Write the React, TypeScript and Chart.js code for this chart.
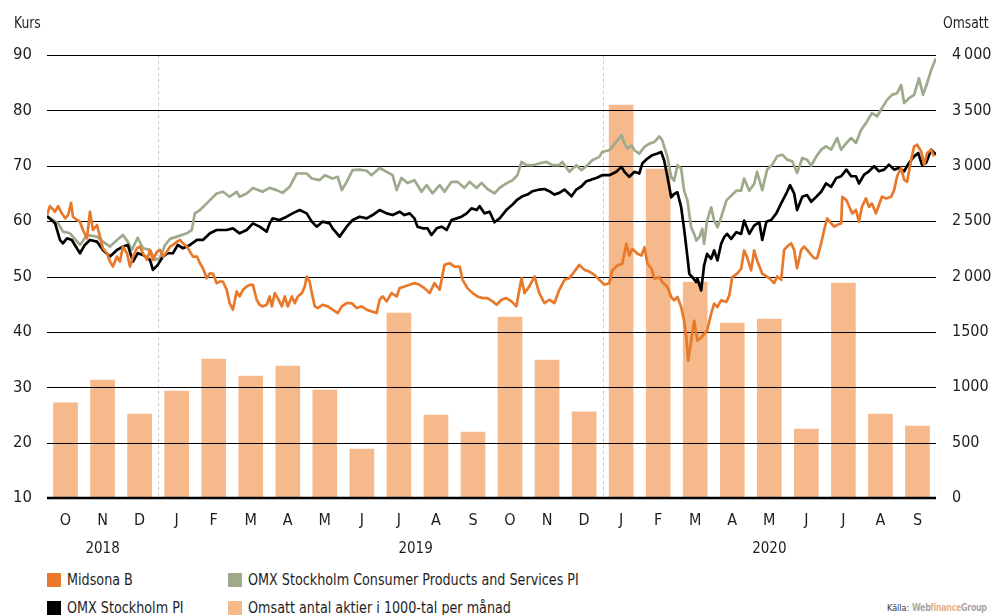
import React, { useEffect, useRef } from "react";
import { Chart, registerables } from "chart.js";

Chart.register(...registerables);

// ---- Data ----
const monthLabels = ["O", "N", "D", "J", "F", "M", "A", "M", "J", "J", "A", "S", "O", "N", "D", "J", "F", "M", "A", "M", "J", "J", "A", "S"];
const yearTexts = ["2018", "2019", "2020"];
const yearPositions = [1.5, 9.95, 19.5];
const yearDividers = [3, 15];

// Omsatt antal aktier i 1000-tal per månad (right axis)
const turnover = [860, 1065, 758, 966, 1255, 1101, 1192, 975, 442, 1670, 749, 596, 1634, 1246, 777, 3548, 2971, 1950, 1580, 1616, 623, 1941, 758, 650];

// x = months since 1 Oct 2018, y = Kurs
const midsona: [number, number][] = [
  [0, 61.1], [0.08, 62.7], [0.22, 61.7], [0.3, 62.7], [0.4, 61.4], [0.49, 60.5], [0.57, 61.1], [0.65, 63.3], [0.7, 60.8], [0.81, 60.2], [0.89, 59.9], [0.97, 58.4], [1.08, 56.9], [1.16, 61.7], [1.24, 58.4], [1.35, 59.3], [1.43, 57.2], [1.51, 55.1], [1.62, 54.2], [1.7, 52.7], [1.78, 51.8], [1.89, 53.6], [1.97, 52.7], [2.05, 55.4], [2.16, 54.2], [2.24, 51.8], [2.32, 53.6], [2.43, 55.1], [2.51, 55.4], [2.59, 54.2], [2.7, 53.0], [2.78, 54.8], [2.86, 53.0], [2.97, 54.5], [3.05, 54.8], [3.13, 53.6], [3.24, 54.5], [3.32, 55.4], [3.4, 55.7], [3.51, 56.3], [3.59, 56.6], [3.67, 56.0], [3.78, 55.4], [3.86, 54.5], [3.94, 53.6], [4.05, 53.6], [4.13, 52.4], [4.21, 51.5], [4.31, 49.7], [4.4, 50.6], [4.48, 50.5], [4.58, 48.8], [4.67, 49.1],
  [4.75, 49.1], [4.85, 47.6], [4.93, 45.2], [5.02, 44.0], [5.12, 47.3], [5.2, 46.4], [5.29, 47.6], [5.39, 48.2], [5.47, 48.5], [5.56, 48.5], [5.66, 45.8], [5.74, 44.9], [5.82, 44.6], [5.93, 44.9], [6.01, 46.4], [6.07, 44.6], [6.15, 47.0], [6.23, 46.1], [6.34, 44.6], [6.42, 46.4], [6.5, 44.6], [6.61, 46.4], [6.69, 45.2], [6.77, 46.4], [6.88, 47.0], [6.96, 48.2], [7.01, 50.0], [7.09, 49.1], [7.15, 47.0], [7.23, 44.6], [7.31, 44.3], [7.44, 44.9], [7.58, 44.6], [7.71, 44.0], [7.85, 43.4], [7.96, 44.6], [8.09, 45.2], [8.22, 45.2], [8.36, 44.3], [8.49, 44.6], [8.63, 44.0], [8.76, 43.7], [8.9, 43.4], [8.98, 45.8], [9.06, 46.4], [9.17, 45.5], [9.3, 47.0], [9.44, 46.4],
  [9.52, 47.9], [9.65, 48.2], [9.79, 48.5], [9.92, 48.8], [10.06, 48.5], [10.19, 47.9], [10.33, 47.0], [10.46, 48.8], [10.6, 47.6], [10.73, 52.1], [10.87, 52.4], [11.0, 51.8], [11.14, 51.8], [11.22, 49.4], [11.35, 47.9], [11.49, 47.0], [11.62, 46.4], [11.76, 46.1], [11.89, 46.1], [12.03, 45.5], [12.14, 44.9], [12.27, 45.8], [12.4, 46.1], [12.54, 45.5], [12.67, 44.6], [12.81, 49.7], [12.89, 47.0], [13.02, 48.2], [13.16, 50.0], [13.29, 47.0], [13.43, 45.2], [13.56, 45.8], [13.7, 45.2], [13.83, 47.6], [13.97, 49.4], [14.1, 49.7], [14.24, 50.9], [14.37, 52.1], [14.51, 51.2], [14.64, 50.9], [14.78, 50.3], [14.91, 49.4], [15.05, 48.5], [15.18, 48.8],
  [15.26, 51.1], [15.4, 52.0], [15.53, 52.3], [15.64, 55.9], [15.72, 53.8], [15.8, 55.0], [15.94, 54.1], [16.05, 53.8], [16.13, 55.3], [16.21, 52.3], [16.32, 51.4], [16.4, 49.6], [16.53, 49.9], [16.61, 49.0], [16.75, 48.1], [16.85, 46.3], [16.93, 45.7], [17.02, 46.3], [17.12, 44.5], [17.2, 42.0], [17.26, 39.0], [17.31, 34.8], [17.39, 38.4], [17.47, 42.0], [17.56, 38.4], [17.66, 39.0], [17.74, 39.6], [17.82, 40.2], [17.93, 43.3], [18.01, 45.1], [18.1, 44.5], [18.2, 45.7], [18.34, 45.4], [18.42, 46.6], [18.5, 49.9], [18.63, 50.5], [18.74, 51.4], [18.82, 54.7], [18.9, 53.5], [19.01, 51.1], [19.09, 54.7], [19.17, 52.9], [19.31, 50.5],
  [19.36, 50.3], [19.5, 49.7], [19.63, 48.8], [19.71, 50.0], [19.82, 49.4], [19.9, 54.8], [19.98, 55.4], [20.09, 56.0], [20.17, 54.8], [20.25, 51.5], [20.36, 54.8], [20.44, 55.4], [20.52, 54.8], [20.63, 53.9], [20.71, 53.3], [20.79, 53.3], [20.9, 56.0], [20.98, 58.4], [21.06, 60.5], [21.17, 59.6], [21.25, 59.0], [21.33, 59.3], [21.44, 59.6], [21.47, 64.4], [21.58, 63.8], [21.66, 62.6], [21.74, 61.4], [21.84, 62.0], [21.92, 59.9], [22.0, 62.6], [22.11, 64.1], [22.19, 62.6], [22.27, 63.2], [22.38, 61.4], [22.46, 62.9], [22.54, 64.4], [22.65, 64.1], [22.79, 64.4], [22.87, 65.6], [22.95, 68.1], [23.06, 69.6], [23.14, 67.5], [23.22, 67.1], [23.33, 71.1], [23.41, 73.5], [23.49, 73.8], [23.6, 72.6], [23.68, 70.2], [23.76, 72.3], [23.87, 72.9], [23.95, 71.7],
];

const omxPI: [number, number][] = [
  [0, 60.9], [0.22, 59.6], [0.35, 56.6], [0.43, 56.0], [0.54, 56.9], [0.67, 56.6], [0.89, 54.2], [1.02, 55.7], [1.16, 56.6], [1.35, 56.3], [1.51, 54.8], [1.7, 53.6], [1.89, 54.8], [2.05, 55.4], [2.18, 55.7], [2.32, 52.7], [2.45, 54.2], [2.59, 53.9], [2.78, 53.0], [2.86, 51.2], [2.99, 52.1], [3.13, 53.6], [3.26, 54.2], [3.4, 54.2], [3.53, 55.7], [3.67, 55.1], [3.86, 55.7], [4.05, 56.6], [4.21, 56.6], [4.4, 57.8], [4.58, 58.4], [4.85, 58.4], [5.02, 58.7], [5.2, 57.8], [5.39, 58.4], [5.56, 59.6], [5.74, 59.0], [5.93, 58.1], [6.01, 59.6], [6.09, 60.5], [6.28, 60.2], [6.47, 60.8], [6.63, 61.4], [6.82, 62.0], [7.01, 61.4], [7.15, 59.9], [7.28, 59.0], [7.44, 59.9], [7.63, 59.6], [7.71, 58.7], [7.9, 57.2], [8.09, 59.0], [8.25, 60.2], [8.44, 60.8], [8.63, 60.5], [8.79, 61.1], [8.98, 62.0], [9.17, 61.4], [9.33, 61.1], [9.52, 61.7], [9.65, 61.1], [9.79, 61.4], [9.92, 60.5], [10.0, 59.0], [10.14, 58.7], [10.27, 58.7], [10.38, 57.5], [10.52, 58.7], [10.65, 59.0], [10.79, 58.4], [10.92, 60.2], [11.06, 60.5], [11.19, 60.8], [11.33, 61.4], [11.46, 62.3], [11.6, 62.0], [11.68, 62.7], [11.81, 61.4], [11.95, 61.7], [12.08, 59.8], [12.22, 60.5], [12.4, 62.0], [12.57, 63.0], [12.7, 63.9], [12.84, 64.5], [12.97, 64.8], [13.11, 65.4], [13.29, 65.7], [13.43, 65.8], [13.56, 65.4], [13.7, 64.8], [13.83, 65.1], [13.97, 65.7], [14.16, 64.5], [14.29, 65.7], [14.43, 66.3], [14.56, 67.2], [14.7, 67.5], [14.83, 67.8], [14.99, 68.3], [15.18, 68.3], [15.37, 68.9], [15.51, 69.8], [15.59, 68.9], [15.72, 68.0], [15.86, 68.9], [15.99, 68.6], [16.07, 70.4], [16.21, 71.3], [16.34, 71.9], [16.48, 72.2], [16.58, 72.5], [16.66, 71.0], [16.75, 68.0], [16.85, 64.3], [16.93, 64.9], [17.02, 65.2], [17.12, 62.5], [17.2, 58.6], [17.29, 53.5], [17.34, 50.5], [17.42, 49.9], [17.53, 49.0], [17.56, 49.6], [17.66, 47.5], [17.74, 52.0], [17.82, 54.1], [17.93, 53.2], [18.01, 54.7], [18.1, 52.9], [18.2, 55.9], [18.28, 57.1], [18.36, 57.7], [18.47, 56.8], [18.61, 58.0], [18.74, 57.7], [18.82, 60.1], [18.96, 57.7], [19.09, 59.2], [19.23, 59.8], [19.31, 56.6], [19.42, 59.9], [19.55, 60.2], [19.69, 61.4], [19.82, 63.2], [19.96, 65.0], [20.06, 66.5], [20.17, 65.0], [20.25, 62.0], [20.39, 64.4], [20.52, 64.7], [20.63, 63.5], [20.77, 64.4], [20.9, 65.3], [21.03, 66.8], [21.17, 66.2], [21.31, 67.8], [21.44, 68.1], [21.58, 69.3], [21.71, 68.1], [21.84, 68.1], [21.92, 66.8], [22.06, 68.4], [22.19, 69.0], [22.33, 69.9], [22.46, 69.0], [22.6, 69.3], [22.73, 70.2], [22.87, 69.3], [23.0, 69.6], [23.14, 69.0], [23.27, 70.5], [23.41, 71.7], [23.52, 72.3], [23.62, 70.2], [23.73, 70.5], [23.87, 72.9], [24.0, 72.0],
];

const omxConsumer: [number, number][] = [
  [0, 60.9], [0.3, 59.6], [0.43, 58.1], [0.62, 57.8], [0.89, 55.7], [1.08, 57.5], [1.35, 57.2], [1.51, 56.3], [1.7, 55.4], [1.89, 56.6], [2.05, 57.5], [2.18, 56.3], [2.29, 54.8], [2.45, 57.0], [2.59, 55.1], [2.78, 54.8], [2.91, 53.0], [3.05, 53.3], [3.18, 55.6], [3.32, 56.8], [3.51, 57.2], [3.78, 57.8], [3.91, 58.4], [3.99, 61.4], [4.13, 62.0], [4.4, 63.8], [4.58, 65.0], [4.75, 65.3], [4.93, 64.4], [5.12, 65.3], [5.2, 64.4], [5.39, 65.0], [5.56, 66.0], [5.82, 65.3], [6.01, 66.0], [6.2, 65.6], [6.36, 65.1], [6.55, 66.2], [6.74, 68.6], [7.01, 68.6], [7.15, 67.7], [7.36, 67.4], [7.5, 68.3], [7.71, 67.7], [7.85, 68.0], [7.96, 65.6], [8.09, 67.1], [8.25, 69.2], [8.44, 69.3], [8.63, 69.1], [8.76, 68.3], [8.98, 69.6], [9.17, 68.9], [9.33, 68.3], [9.44, 65.6], [9.57, 67.8], [9.73, 66.9], [9.92, 67.4], [10.11, 65.3], [10.25, 66.5], [10.41, 65.0], [10.6, 66.5], [10.73, 65.3], [10.92, 67.1], [11.08, 67.1], [11.27, 66.0], [11.41, 67.1], [11.6, 66.0], [11.73, 66.9], [11.89, 65.8], [12.08, 65.0], [12.22, 66.0], [12.4, 66.8], [12.57, 67.4], [12.7, 68.3], [12.81, 70.7], [12.94, 70.1], [13.11, 70.1], [13.29, 70.4], [13.48, 70.7], [13.65, 70.1], [13.83, 70.1], [13.91, 70.7], [14.1, 68.9], [14.29, 70.1], [14.43, 69.2], [14.59, 70.1], [14.72, 71.0], [14.91, 71.6], [14.99, 72.5], [15.18, 72.8], [15.26, 73.4], [15.4, 74.6], [15.51, 75.5], [15.59, 74.0], [15.67, 73.1], [15.78, 73.7], [15.86, 72.8], [15.99, 72.2], [16.13, 73.4], [16.26, 74.0], [16.4, 74.3], [16.53, 75.3], [16.61, 74.6], [16.75, 71.6], [16.85, 68.0], [16.93, 67.3], [17.02, 70.1], [17.12, 69.5], [17.2, 65.5], [17.29, 63.7], [17.39, 58.9], [17.47, 57.7], [17.53, 56.5], [17.61, 57.1], [17.69, 58.6], [17.74, 55.9], [17.82, 60.1], [17.93, 62.5], [18.01, 60.1], [18.1, 58.9], [18.2, 60.7], [18.34, 63.7], [18.47, 64.6], [18.61, 65.5], [18.74, 65.5], [18.82, 67.7], [18.96, 65.5], [19.09, 66.7], [19.17, 68.9], [19.31, 65.6], [19.44, 69.3], [19.58, 70.2], [19.71, 71.7], [19.85, 72.0], [19.98, 71.1], [20.12, 70.8], [20.25, 68.7], [20.39, 71.4], [20.52, 71.1], [20.63, 70.0], [20.77, 71.7], [20.9, 72.9], [21.03, 73.5], [21.17, 72.9], [21.33, 75.0], [21.44, 72.9], [21.58, 74.1], [21.71, 75.0], [21.84, 74.1], [21.98, 76.5], [22.11, 77.7], [22.27, 79.5], [22.41, 78.9], [22.54, 80.4], [22.68, 81.9], [22.81, 82.8], [22.95, 83.1], [23.06, 84.6], [23.14, 81.3], [23.27, 82.2], [23.41, 82.8], [23.54, 85.8], [23.65, 82.8], [23.76, 84.9], [23.87, 87.3], [24.0, 89.4],
];

const kursMin = 10;
const kursMax = 90;
const omsattMax = 4000;

// ---- Styles ----
const FONT = "'DejaVu Sans Condensed', 'Roboto', sans-serif";
const TEXT = "#1e1e1e";
const C_MIDSONA = "#E8792B";
const C_PI = "#000000";
const C_CONSUMER = "#9DAA8B";
const C_BAR = "#F5B98B";

function fmtOmsatt(v: number): string {
  if (v >= 2000) {
    const th = Math.floor(v / 1000);
    const rest = String(v % 1000).padStart(3, "0");
    return th + "\u2009" + rest;
  }
  return String(v);
}

const overlayPlugin = {
  id: "overlay",
  beforeDatasetsDraw(chart: any) {
    const { ctx, chartArea, scales } = chart;
    ctx.save();
    ctx.strokeStyle = "#c8c8c8";
    ctx.lineWidth = 1;
    ctx.setLineDash([3, 3]);
    yearDividers.forEach((v) => {
      const x = Math.round(scales.x.getPixelForValue(v)) + 0.5;
      ctx.beginPath();
      ctx.moveTo(x, chartArea.top);
      ctx.lineTo(x, chartArea.bottom);
      ctx.stroke();
    });
    ctx.restore();
  },
  afterDatasetDraw(chart: any, args: any) {
    if (args.meta.type !== "bar") return;
    const { ctx, chartArea, scales } = chart;
    ctx.save();
    ctx.strokeStyle = "#000";
    scales.y.ticks.forEach((t: any) => {
      const bottom = t.value === kursMin;
      const y = bottom ? scales.y.getPixelForValue(t.value) : Math.round(scales.y.getPixelForValue(t.value)) + 0.5;
      ctx.lineWidth = bottom ? 2.6 : 1.2;
      ctx.beginPath();
      ctx.moveTo(chartArea.left, y);
      ctx.lineTo(chartArea.right, y);
      ctx.stroke();
    });
    ctx.restore();
  },
  afterDraw(chart: any) {
    const { ctx, scales } = chart;
    ctx.save();
    ctx.fillStyle = TEXT;
    ctx.font = `15px ${FONT}`;
    ctx.textAlign = "center";
    ctx.textBaseline = "middle";
    yearTexts.forEach((t, i) => {
      ctx.fillText(t, scales.x.getPixelForValue(yearPositions[i]), 549);
    });
    ctx.restore();
  },
};

const squeeze: React.CSSProperties = {
  display: "inline-block",
  transform: "scaleX(0.86)",
  transformOrigin: "left center",
  whiteSpace: "nowrap",
};

export default function App() {
  const canvasRef = useRef<HTMLCanvasElement | null>(null);

  useEffect(() => {
    const canvas = canvasRef.current;
    if (!canvas) return;
    const toXY = (arr: [number, number][]) => arr.map(([x, y]) => ({ x, y }));
    const chart = new Chart(canvas, {
      type: "bar",
      data: {
        datasets: [
          {
            type: "line",
            label: "Midsona B",
            data: toXY(midsona),
            borderColor: C_MIDSONA,
            borderWidth: 2.7,
            pointRadius: 0,
            borderJoinStyle: "round",
            yAxisID: "y",
            order: 1,
          } as any,
          {
            type: "line",
            label: "OMX Stockholm PI",
            data: toXY(omxPI),
            borderColor: C_PI,
            borderWidth: 2.7,
            pointRadius: 0,
            borderJoinStyle: "round",
            yAxisID: "y",
            order: 2,
          } as any,
          {
            type: "line",
            label: "OMX Stockholm Consumer Products and Services PI",
            data: toXY(omxConsumer),
            borderColor: C_CONSUMER,
            borderWidth: 2.7,
            pointRadius: 0,
            borderJoinStyle: "round",
            yAxisID: "y",
            order: 3,
          } as any,
          {
            type: "bar",
            label: "Omsatt antal aktier i 1000-tal per månad",
            data: turnover.map((v, i) => ({ x: i + 0.5, y: v })),
            backgroundColor: C_BAR,
            barThickness: 24,
            yAxisID: "y2",
            order: 10,
          } as any,
        ],
      },
      options: {
        responsive: false,
        animation: false,
        devicePixelRatio: 1,
        layout: { padding: { top: 55, left: 0, right: 0, bottom: 0 } },
        plugins: { legend: { display: false }, tooltip: { enabled: false } },
        scales: {
          x: {
            type: "linear",
            min: 0,
            max: 24,
            offset: false,
            grid: { display: false, drawTicks: false },
            border: { display: false },
            afterBuildTicks: (scale: any) => {
              scale.ticks = monthLabels.map((_, i) => ({ value: i + 0.5 }));
            },
            afterFit: (scale: any) => {
              scale.height = 62;
            },
            ticks: {
              autoSkip: false,
              maxRotation: 0,
              padding: 13,
              color: TEXT,
              font: { family: FONT, size: 16 },
              callback: (_v: any, i: number) => monthLabels[i],
            },
          },
          y: {
            type: "linear",
            position: "left",
            min: kursMin,
            max: kursMax,
            grid: { display: false, drawTicks: false },
            border: { display: false },
            afterFit: (scale: any) => {
              scale.width = 47;
            },
            ticks: {
              stepSize: 10,
              padding: 15,
              color: TEXT,
              font: { family: FONT, size: 16.5 },
            },
          },
          y2: {
            type: "linear",
            position: "right",
            min: 0,
            max: omsattMax,
            grid: { display: false, drawTicks: false },
            border: { display: false },
            afterFit: (scale: any) => {
              scale.width = 56;
            },
            ticks: {
              stepSize: 500,
              padding: 16,
              color: TEXT,
              font: { family: FONT, size: 16 },
              callback: (v: any) => fmtOmsatt(Number(v)),
            },
          },
        },
      } as any,
      plugins: [overlayPlugin],
    });
    return () => chart.destroy();
  }, []);

  const legendItem = (color: string, text: string, left: number, top: number) => (
    <div style={{ position: "absolute", left, top, display: "flex", alignItems: "center", height: 16 }}>
      <div style={{ width: 14, height: 14, background: color, marginRight: 6, flex: "none" }} />
      <span style={{ ...squeeze, fontSize: 16.5, color: TEXT, lineHeight: "16px" }}>{text}</span>
    </div>
  );

  return (
    <div
      style={{
        position: "absolute",
        left: 0,
        top: 0,
        width: 992,
        height: 615,
        overflow: "hidden",
        background: "#fff",
        fontFamily: FONT,
      }}
    >
      <canvas ref={canvasRef} width={992} height={560} style={{ position: "absolute", left: 0, top: 0, width: 992, height: 560 }} />
      <div style={{ position: "absolute", left: 14, top: 13, fontSize: 16, color: TEXT }}>
        <span style={squeeze}>Kurs</span>
      </div>
      <div style={{ position: "absolute", left: 943, top: 13, fontSize: 16, color: TEXT }}>
        <span style={squeeze}>Omsatt</span>
      </div>
      {legendItem(C_MIDSONA, "Midsona B", 47, 572)}
      {legendItem(C_CONSUMER, "OMX Stockholm Consumer Products and Services PI", 228, 572)}
      {legendItem(C_PI, "OMX Stockholm PI", 47, 600)}
      {legendItem(C_BAR, "Omsatt antal aktier i 1000-tal per månad", 228, 600)}
      <div style={{ position: "absolute", left: 887, top: 601, fontSize: 9, color: "#333", whiteSpace: "nowrap", display: "flex", alignItems: "baseline" }}>
        <span style={{ marginRight: 3 }}>Källa:</span>
        <span style={{ ...squeeze, transform: "scaleX(0.8)", fontSize: 11, fontWeight: "bold", color: "#a8a8a8", letterSpacing: -0.4 }}>
          Web<span style={{ color: "#eab08f" }}>finance</span>Group
        </span>
      </div>
    </div>
  );
}
